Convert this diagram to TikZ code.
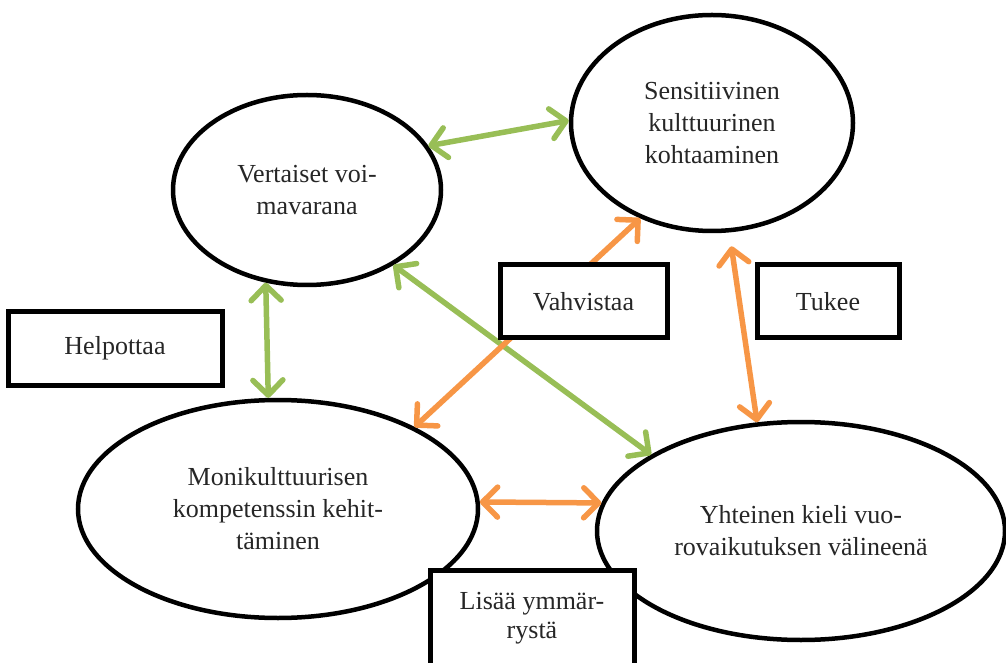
\documentclass[tikz,border=0pt]{standalone}
\usepackage{fontspec}
\setmainfont{Liberation Serif}
\usepackage{tikz}
\usetikzlibrary{arrows.meta,shapes.geometric}
\definecolor{kgreen}{RGB}{152,190,86}
\definecolor{korange}{RGB}{247,150,70}

\begin{document}
\begin{tikzpicture}[
    x=1pt, y=1pt,
    font=\fontsize{26}{32}\selectfont,
    ell/.style={draw, ellipse, line width=4.5pt, inner sep=0pt, align=center, text=black!85},
    lab/.style={draw, fill=white, line width=5pt, inner sep=0pt, align=center, text=black!85, minimum height=73pt},
    gar/.style={{Straight Barb[length=15pt, width=30pt, round]}-{Straight Barb[length=15pt, width=30pt, round]}, line width=5.5pt, kgreen},
    oar/.style={{Straight Barb[length=15pt, width=30pt, round]}-{Straight Barb[length=15pt, width=30pt, round]}, line width=5.5pt, korange},
  ]
    \useasboundingbox (0,0) rectangle (1006,662);

    \node[ell, minimum width=268pt, minimum height=190pt] (verta) at (307,472) {Vertaiset voi-\\mavarana};
    \node[ell, minimum width=282pt, minimum height=216pt] (sensi) at (712,539) {Sensitiivinen\\kulttuurinen\\kohtaaminen};
    \node[ell, minimum width=400pt, minimum height=218pt] (moni) at (278,153) {Monikulttuurisen\\kompetenssin kehit-\\täminen};
    \node[ell, minimum width=408pt, minimum height=218pt] (yhte) at (801,131) {Yhteinen kieli vuo-\\rovaikutuksen välineenä};

    \draw[gar] (verta.20) -- (sensi.179);
    \draw[gar] (verta.246.7) -- (moni.95.7);
    \draw[gar] (verta.319.3) -- (yhte.153.7);
    \draw[oar] (sensi.233.4) -- (moni.31.1);
    \draw[oar, shorten <=14pt] (sensi.279.8) -- (yhte.112.2);
    \draw[oar] (moni.2) -- (yhte.172);

    \node[lab, minimum width=214pt] (helpo) at (115,313.5) {Helpottaa};
    \node[lab, minimum width=167pt] (vahv) at (583.5,360.5) {Vahvistaa};
    \node[lab, minimum width=142pt] (tukee) at (828,360.5) {Tukee};
    \node[lab, minimum width=204pt, minimum height=97pt, font=\fontsize{26}{29}\selectfont] (lisaa) at (532,43.5) {Lisää ymmär-\\rystä};
  \end{tikzpicture}
\end{document}
